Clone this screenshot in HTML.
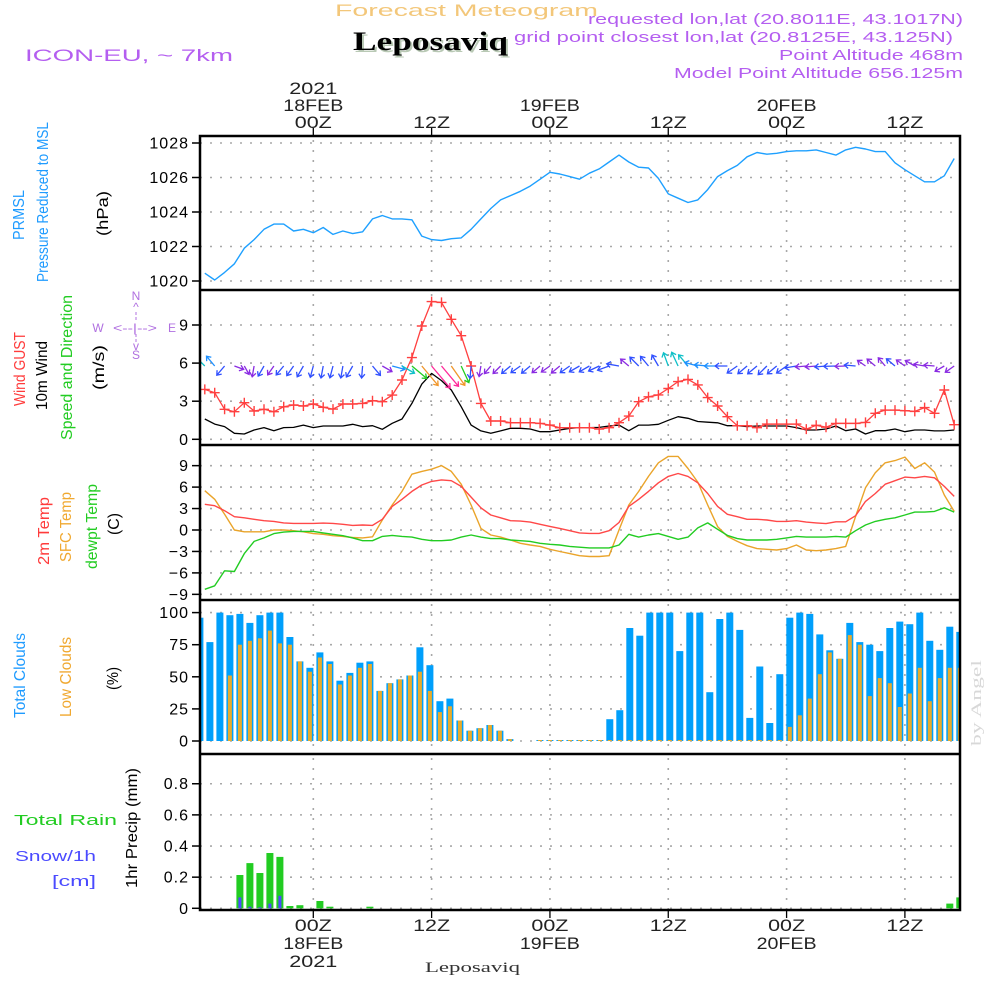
<!DOCTYPE html>
<html><head><meta charset="utf-8"><title>Forecast Meteogram Leposaviq</title>
<style>
html,body{margin:0;padding:0;background:#fff;}
svg{display:block;font-family:"Liberation Sans",sans-serif;}
</style></head>
<body>
<svg id="chart" width="1000" height="1000" viewBox="0 0 1000 1000" xmlns="http://www.w3.org/2000/svg">
<defs>
<clipPath id="clipPlot"><rect x="201" y="137" width="758" height="772"/></clipPath>
</defs>
<rect x="0" y="0" width="1000" height="1000" fill="#fff"/>
<!-- header -->
<text x="335" y="16" font-size="17" fill="#f3c77a" textLength="263" lengthAdjust="spacingAndGlyphs">Forecast Meteogram</text>
<text x="355" y="52" font-family="Liberation Serif, serif" font-weight="bold" font-size="26" fill="#b9c9b5" textLength="155" lengthAdjust="spacingAndGlyphs">Leposaviq</text>
<text x="353" y="50" font-family="Liberation Serif, serif" font-weight="bold" font-size="26" fill="#000" textLength="155" lengthAdjust="spacingAndGlyphs">Leposaviq</text>
<text x="25" y="61" font-size="17" fill="#b45ef0" textLength="208" lengthAdjust="spacingAndGlyphs">ICON-EU, ~ 7km</text>
<text x="963" y="24" text-anchor="end" font-size="15" fill="#b45ef0" textLength="375" lengthAdjust="spacingAndGlyphs">requested lon,lat (20.8011E, 43.1017N)</text>
<text x="953" y="42" text-anchor="end" font-size="15" fill="#b45ef0" textLength="439" lengthAdjust="spacingAndGlyphs">grid point closest lon,lat (20.8125E, 43.125N)</text>
<text x="963" y="60" text-anchor="end" font-size="15" fill="#b45ef0" textLength="184" lengthAdjust="spacingAndGlyphs">Point Altitude 468m</text>
<text x="963" y="78" text-anchor="end" font-size="15" fill="#b45ef0" textLength="289" lengthAdjust="spacingAndGlyphs">Model Point Altitude 656.125m</text>

<!-- left labels -->
<g>
<text transform="translate(24,240) rotate(-90)" font-size="16" fill="#1e9bff" textLength="50" lengthAdjust="spacingAndGlyphs">PRMSL</text>
<text transform="translate(48,282) rotate(-90)" font-size="16" fill="#1e9bff" textLength="160" lengthAdjust="spacingAndGlyphs">Pressure Reduced to MSL</text>
<text transform="translate(108,236) rotate(-90)" font-size="16" fill="#000" textLength="45" lengthAdjust="spacingAndGlyphs">(hPa)</text>
</g>
<g>
<text transform="translate(25,406) rotate(-90)" font-size="16" fill="#ff3b3b" textLength="74" lengthAdjust="spacingAndGlyphs">Wind GUST</text>
<text transform="translate(47,410) rotate(-90)" font-size="16" fill="#000" textLength="69" lengthAdjust="spacingAndGlyphs">10m Wind</text>
<text transform="translate(72,440) rotate(-90)" font-size="16" fill="#22cc22" textLength="145" lengthAdjust="spacingAndGlyphs">Speed and Direction</text>
<text transform="translate(104,390) rotate(-90)" font-size="16" fill="#000" textLength="45" lengthAdjust="spacingAndGlyphs">(m/s)</text>
<g fill="#b070e0" font-size="12" text-anchor="middle">
<text x="136" y="300">N</text>
<text x="136" y="311">^</text>
<text x="98" y="332">W</text>
<text x="135" y="332" textLength="44" lengthAdjust="spacingAndGlyphs">&lt;--|--&gt;</text>
<text x="172" y="332">E</text>
<text x="136" y="350">v</text>
<text x="136" y="359">S</text>
<line x1="136" y1="312" x2="136" y2="322" stroke="#b070e0" stroke-dasharray="3 2"/>
<line x1="136" y1="334" x2="136" y2="343" stroke="#b070e0" stroke-dasharray="3 2"/>
</g>
</g>
<g>
<text transform="translate(49,565) rotate(-90)" font-size="16" fill="#ff3b3b" textLength="68" lengthAdjust="spacingAndGlyphs">2m Temp</text>
<text transform="translate(71,562) rotate(-90)" font-size="16" fill="#f0a830" textLength="70" lengthAdjust="spacingAndGlyphs">SFC Temp</text>
<text transform="translate(97,569) rotate(-90)" font-size="16" fill="#22cc22" textLength="85" lengthAdjust="spacingAndGlyphs">dewpt Temp</text>
<text transform="translate(119,535) rotate(-90)" font-size="16" fill="#000" textLength="22" lengthAdjust="spacingAndGlyphs">(C)</text>
</g>
<g>
<text transform="translate(25,718) rotate(-90)" font-size="16" fill="#1e9bff" textLength="85" lengthAdjust="spacingAndGlyphs">Total Clouds</text>
<text transform="translate(71,717) rotate(-90)" font-size="16" fill="#f0a830" textLength="80" lengthAdjust="spacingAndGlyphs">Low Clouds</text>
<text transform="translate(118,690) rotate(-90)" font-size="16" fill="#000" textLength="23" lengthAdjust="spacingAndGlyphs">(%)</text>
</g>
<g>
<text x="14" y="825" font-size="15" fill="#22cc22" textLength="103" lengthAdjust="spacingAndGlyphs">Total   Rain</text>
<text x="15" y="861" font-size="15" fill="#4a4aff" textLength="81" lengthAdjust="spacingAndGlyphs">Snow/1h</text>
<text x="52" y="886" font-size="15" fill="#4a4aff" textLength="44" lengthAdjust="spacingAndGlyphs">[cm]</text>
<text transform="translate(137,888) rotate(-90)" font-size="16" fill="#000" textLength="120" lengthAdjust="spacingAndGlyphs">1hr Precip (mm)</text>
</g>
<text transform="translate(981,746) rotate(-90)" font-family="Liberation Serif, serif" font-size="15" fill="#d8d8d8" textLength="86" lengthAdjust="spacingAndGlyphs">by Angel</text>
<text x="425" y="972" font-family="Liberation Serif, serif" font-size="15" fill="#333" textLength="95" lengthAdjust="spacingAndGlyphs">Leposaviq</text>

<g id="grid"></g>
<g id="marks" clip-path="url(#clipPlot)"></g>
<g id="axes"></g>
</svg>

<script>
// ---------- DATA (hourly, lines: hour -11 .. 65 rel. 00Z 18FEB) ----------
const lineStartHour = -11;
const barStartHour = -12;
const pressure = [1020.45,1020.06,1020.5,1021.0,1021.9,1022.4,1023.0,1023.3,1023.3,1022.9,1023.0,
1022.8,1023.1,1022.7,1022.9,1022.75,1022.85,1023.6,1023.8,1023.6,1023.6,1023.55,1022.6,
1022.4,1022.35,1022.45,1022.5,1023.0,1023.6,1024.2,1024.7,1024.95,1025.2,1025.5,1025.9,
1026.3,1026.2,1026.05,1025.9,1026.25,1026.5,1026.9,1027.3,1026.9,1026.6,1026.55,1025.95,
1025.05,1024.8,1024.55,1024.7,1025.3,1026.05,1026.4,1026.7,1027.2,1027.45,1027.35,1027.4,
1027.5,1027.55,1027.55,1027.6,1027.45,1027.3,1027.6,1027.75,1027.65,1027.5,1027.5,1026.85,
1026.45,1026.1,1025.75,1025.75,1026.1,1027.1];
const windGust = [3.93,3.67,2.36,2.17,2.88,2.23,2.36,2.17,2.56,2.7,2.62,
2.78,2.52,2.38,2.78,2.78,2.83,3.04,2.96,3.48,4.67,6.43,8.92,
10.84,10.78,9.45,8.16,5.77,2.83,1.44,1.44,1.31,1.31,1.31,1.25,
1.12,0.91,0.91,0.91,0.91,
0.8,0.91,1.31,1.83,2.96,3.35,3.5,4.0,4.54,4.72,4.28,3.28,2.62,1.78,1.07,1.07,0.91,1.2,1.2,1.2,1.2,0.8,1.1,0.95,1.25,1.25,1.25,1.33,2.05,2.3,2.3,2.25,2.2,2.5,2.05,3.88,1.15];
const windSpeed = [1.6,1.2,1.0,0.47,0.42,0.73,0.92,0.68,0.92,0.94,1.12,
0.92,1.05,1.05,1.05,1.18,1.0,1.07,0.79,1.26,1.6,2.83,4.35,
5.19,4.62,3.88,2.57,1.12,0.66,0.47,0.66,0.87,0.87,0.81,0.6,
0.6,0.73,0.87,0.92,0.92,
0.94,1.05,1.12,0.68,1.12,1.12,1.18,1.5,1.78,1.65,1.4,1.35,1.3,1.07,1.07,1.0,1.05,1.05,1.05,1.05,0.92,0.73,0.73,0.81,1.05,0.68,0.81,0.42,0.68,0.68,0.81,0.6,0.73,0.73,0.66,0.66,0.73];
const windDir = [135,140,40,290,330,10,30,35,40,35,30,
15,10,15,10,30,5,320,300,285,300,310,320,
320,320,325,335,5,10,40,45,50,55,50,50,
55,50,55,60,60,65,70,100,130,135,140,150,
160,155,140,105,95,90,90,55,50,50,45,50,
55,80,85,85,85,88,88,95,125,130,140,130,
125,120,100,95,60,55];
const temp2m = [3.6,3.4,2.7,1.86,1.7,1.5,1.3,1.2,1.0,0.93,0.93,
0.93,0.97,0.93,0.8,0.65,0.7,0.65,1.5,3.3,4.3,5.4,6.3,
6.8,7.0,6.9,6.1,4.6,3.1,2.1,1.7,1.3,1.25,1.1,0.8,
0.5,0.23,-0.1,-0.4,-0.47,
-0.47,-0.1,1.05,3.3,4.3,5.4,6.6,7.5,7.9,7.5,6.6,5.1,3.3,2.2,1.86,1.5,1.5,1.4,1.2,1.2,1.3,1.1,1.0,0.9,1.15,1.15,2.0,4.0,5.1,6.4,6.9,7.4,7.3,7.5,7.3,6.1,4.7];
const tempSfc = [5.5,4.3,2.2,0,-0.25,-0.25,-0.25,0,0,-0.1,-0.25,
-0.5,-0.6,-0.8,-0.9,-1.05,-1.1,-0.95,1.4,3.5,5.4,7.8,8.2,
8.5,9.0,8.2,6.4,3.5,0.23,-0.7,-1.0,-1.4,-1.86,-2.1,-2.3,
-2.7,-3.0,-3.3,-3.6,-3.7,
-3.7,-3.6,0.0,3.5,5.4,7.5,9.4,10.3,10.3,8.6,6.7,3.5,0.47,-0.9,-1.6,-2.2,-2.6,-2.7,-2.8,-2.6,-2.1,-2.8,-2.9,-2.8,-2.6,-2.3,1.9,5.9,8.0,9.4,9.7,10.2,8.6,9.4,8.1,4.9,2.6];
const dewpoint = [-8.3,-7.8,-5.7,-5.8,-3.3,-1.6,-1.1,-0.5,-0.3,-0.2,-0.2,
-0.2,-0.4,-0.6,-0.8,-1.1,-1.5,-1.5,-0.9,-0.75,-0.9,-1.0,-1.3,
-1.5,-1.5,-1.4,-1.0,-0.7,-1.0,-1.2,-1.2,-1.4,-1.5,-1.6,-1.86,
-2.0,-2.1,-2.3,-2.4,-2.5,
-2.5,-2.5,-2.1,-0.6,-1.0,-0.7,-0.5,-0.9,-1.3,-1.0,0.3,1.0,0.1,-0.75,-1.2,-1.4,-1.4,-1.4,-1.3,-1.1,-0.9,-1.0,-1.0,-1.0,-0.9,-1.0,-0.1,0.7,1.2,1.5,1.7,2.1,2.5,2.5,2.6,3.1,2.5];
// bars: hour -12 .. 64
const totalClouds = [96,77,100,98,99,92,98,100,100,81,62,57,69,62,47,53,61,62,39,45,48,51,73,59,31,33,16,8,10,12.5,8,1.5,
0,0,0.5,0.5,0.5,0.5,0.5,0.5,0.5,
17,24,88,82,100,100,100,70,100,100,38,95,100,86.5,18,58,14,52,96,100,99,83,70.6,64,92,77,75,70,88,93,91,100,78,71,89,85];
const lowClouds = [0,0,0,51,75,78,80,86,76,75,62,54,65,60,44,51,57,60,39,45,48,51,54,39,22.5,27,16,8,10,12.5,8,1.5,
0,0,0.5,0.5,0.5,0.5,0.5,0.5,0.5,
0.5,0.5,0.5,0.5,0.5,0.5,0.5,0.5,0.5,0.5,0.5,0.5,0.5,0.5,0.5,0.5,0.5,0.5,
11,20,33,52,69,64,82.5,75,35,49,45,26.5,37,57,31,49,57,57];
const rainTotal = [0,0,0,0,0.214,0.29,0.227,0.355,0.33,0.015,0.02,0,0.047,0.01,0,0,0,0.01,
0,0,0,0,0,0,0,0,0,0,0,0,0,0,0,0,0,0,0,0,0,0,0,0,0,0,0,0,0,0,0,0,0,0,0,0,0,0,0,0,0,0,0,0,0,0,0,0,0,0,0,0,0,0,0,0,0,0.03,0.07];
const snowHourly = [0,0,0,0,0.07,0.01,0.005,0.03,0.08];
const pressureTicks = [1020,1022,1024,1026,1028];
const windTicks = [0,3,6,9];
const tempTicks = [-9,-6,-3,0,3,6,9];
const cloudTicks = [0,25,50,75,100];
const precipTicks = [0,0.2,0.4,0.6,0.8];
const timeTickHours = [0,12,24,36,48,60];
const timeTickLabels = ["00Z","12Z","00Z","12Z","00Z","12Z"];
const dayLabels = {0:"18FEB",24:"19FEB",48:"20FEB"};
const yearLabelHour = 0;
const yearLabel = "2021";

// ---------- SCALES ----------
const X0 = 200, X1 = 960;
const xS = h => 313.3 + 9.86*h;
const bX = h => xS(h*1.014 + 0.67);
const yP = v => 281 - (v-1020)*17.25;
const yW = v => 439.3 - v*12.7;
const yT = v => 530 - v*7.15;
const yC = v => 741 - v*1.284;
const yR = v => 908.3 - v*155.7;
const panels = [[136,290],[290,445],[445,600],[600,754],[754,910]];

const NS = "http://www.w3.org/2000/svg";
function el(tag, parent){ const e=document.createElementNS(NS,tag); parent.appendChild(e); return e; }
const grid = document.getElementById('grid');
const marks = document.getElementById('marks');
const axes = document.getElementById('axes');

// ---------- GRID ----------
function hgrid(ticks, yf, name){
  ticks.forEach(t=>{
    const l = el('line', grid);
    
    
    l.setAttribute('x1', X0); l.setAttribute('x2', X1);
    l.setAttribute('y1', yf(t)); l.setAttribute('y2', yf(t));
    l.setAttribute('stroke', '#a8a8a8'); l.setAttribute('stroke-width', '1.6');
    l.setAttribute('stroke-dasharray', '2 8');
  });
}
hgrid(pressureTicks, yP, 'pressure-gridline');
hgrid(windTicks, yW, 'wind-gridline');
hgrid(tempTicks, yT, 'temp-gridline');
hgrid(cloudTicks, yC, 'cloud-gridline');
hgrid(precipTicks, yR, 'precip-gridline');
timeTickHours.forEach(h=>{
  panels.forEach(p=>{
    const l = el('line', grid);
    
    
    l.setAttribute('x1', xS(h)); l.setAttribute('x2', xS(h));
    l.setAttribute('y1', p[0]+4); l.setAttribute('y2', p[1]);
    l.setAttribute('stroke', '#a8a8a8'); l.setAttribute('stroke-width', '1.6');
    l.setAttribute('stroke-dasharray', '2 8');
  });
});

// ---------- LINES ----------
function line(data, yf, color, name, width){
  const pts = data.map((v,i)=> xS(lineStartHour+i).toFixed(1)+','+yf(v).toFixed(1)).join(' ');
  const pl = el('polyline', marks);
  
  
  pl.setAttribute('points', pts);
  pl.setAttribute('fill', 'none');
  pl.setAttribute('stroke', color);
  pl.setAttribute('stroke-width', width||1.4);
  pl.setAttribute('stroke-linejoin', 'round');
}

// ---------- BARS ----------
function bars(data, startH, yf, y0, color, w, name){
  data.forEach((v,i)=>{
    if (v<=0) return;
    const cx = bX(startH+i);
    const r = el('rect', marks);
    
    
    r.setAttribute('x', (cx-w/2).toFixed(1));
    r.setAttribute('y', Math.min(yf(v), y0-1).toFixed(1));
    r.setAttribute('width', w);
    r.setAttribute('height', Math.max(y0-yf(v),1).toFixed(1));
    r.setAttribute('fill', color);
  });
}
bars(totalClouds, barStartHour, yC, yC(0), '#009ffb', 7, 'total-cloud-bar');
bars(lowClouds, barStartHour, yC, yC(0), '#e8ab2c', 4, 'low-cloud-bar');
bars(rainTotal, barStartHour, yR, yR(0), '#22cc22', 7, 'rain-bar');
bars(snowHourly, barStartHour, yR, yR(0), '#4a4aff', 3, 'snow-bar');

line(pressure, yP, '#1ea0ff', 'pressure-line', 1.4);
line(windSpeed, yW, '#000000', 'wind-speed-line', 1.3);
line(windGust, yW, '#ff4040', 'wind-gust-line', 1.3);
line(tempSfc, yT, '#eaa42a', 'sfc-temp-line', 1.4);
line(dewpoint, yT, '#22cc22', 'dewpoint-line', 1.4);
line(temp2m, yT, '#ff4848', 'temp-2m-line', 1.4);

// gust markers
windGust.forEach((v,i)=>{
  const x = xS(lineStartHour+i), y = yW(v);
  const p = el('path', marks);
  
  
  p.setAttribute('d', `M${(x-5).toFixed(1)},${y.toFixed(1)}H${(x+5).toFixed(1)}M${x.toFixed(1)},${(y-5).toFixed(1)}V${(y+5).toFixed(1)}`);
  p.setAttribute('stroke', '#ff4040');
  p.setAttribute('stroke-width', '1.4');
});

// wind arrows
function arrowColor(s){
  if (s < 0.8) return '#8a2be2';
  if (s < 1.2) return '#3050ff';
  if (s < 1.45) return '#1e90ff';
  if (s < 2.0) return '#10c0c8';
  if (s < 3.5) return '#22cc22';
  if (s < 4.5) return '#f0962a';
  return '#ff2a9a';
}
windDir.forEach((d,i)=>{
  const s = windSpeed[i];
  const L = 8 + 4*s;
  const rad = d*Math.PI/180;
  const x1 = xS(lineStartHour+i), y1 = 366;
  const dx = -Math.sin(rad)*L, dy = Math.cos(rad)*L;
  const x2 = x1+dx, y2 = y1+dy;
  const ux = dx/L, uy = dy/L, hl = 5;
  const a1x = x2 - hl*(ux*0.8 - uy*0.6), a1y = y2 - hl*(uy*0.8 + ux*0.6);
  const a2x = x2 - hl*(ux*0.8 + uy*0.6), a2y = y2 - hl*(uy*0.8 - ux*0.6);
  const p = el('path', marks);
  
  
  p.setAttribute('d', `M${x1.toFixed(1)},${y1.toFixed(1)}L${x2.toFixed(1)},${y2.toFixed(1)}M${a1x.toFixed(1)},${a1y.toFixed(1)}L${x2.toFixed(1)},${y2.toFixed(1)}L${a2x.toFixed(1)},${a2y.toFixed(1)}`);
  p.setAttribute('stroke', arrowColor(s));
  p.setAttribute('stroke-width', '1.3');
  p.setAttribute('fill', 'none');
});

// ---------- AXES / FRAME ----------
const frame = el('rect', axes);


frame.setAttribute('x', X0); frame.setAttribute('y', 136);
frame.setAttribute('width', X1-X0); frame.setAttribute('height', 774);
frame.setAttribute('fill', 'none'); frame.setAttribute('stroke', '#000'); frame.setAttribute('stroke-width', '2.5');
[290,445,600,754].forEach(y=>{
  const l = el('line', axes);
  
  
  l.setAttribute('x1', X0); l.setAttribute('x2', X1);
  l.setAttribute('y1', y); l.setAttribute('y2', y);
  l.setAttribute('stroke', '#000'); l.setAttribute('stroke-width', '2.5');
});
function yAxis(ticks, yf, name, fmt){
  ticks.forEach(t=>{
    const y = yf(t);
    const tk = el('line', axes);
    
    
    tk.setAttribute('x1', 192); tk.setAttribute('x2', X0);
    tk.setAttribute('y1', y); tk.setAttribute('y2', y);
    tk.setAttribute('stroke', '#000'); tk.setAttribute('stroke-width', '1.5');
    const tx = el('text', axes);
    
    
    tx.setAttribute('x', 189); tx.setAttribute('y', (y+5.5).toFixed(1));
    tx.setAttribute('text-anchor', 'end');
    tx.setAttribute('font-size', '16');
    tx.setAttribute('letter-spacing', '1');
    tx.textContent = fmt(t);
  });
}
yAxis(pressureTicks, yP, 'pressure-axis', t=>String(t));
yAxis(windTicks, yW, 'wind-axis', t=>String(t));
yAxis(tempTicks, yT, 'temp-axis', t=>t<0 ? '\u2212'+Math.abs(t) : String(t));
yAxis(cloudTicks, yC, 'cloud-axis', t=>String(t));
yAxis(precipTicks, yR, 'precip-axis', t=>t===0?'0':t.toFixed(1));

function timeText(x, y, s, name, len){
  const t = el('text', axes);
  
  
  t.setAttribute('x', x.toFixed(1)); t.setAttribute('y', y);
  t.setAttribute('text-anchor', 'middle');
  t.setAttribute('font-size', '17');
  t.setAttribute('fill', '#222');
  t.setAttribute('textLength', len);
  t.setAttribute('lengthAdjust', 'spacingAndGlyphs');
  t.textContent = s;
}
timeTickHours.forEach((h,i)=>{
  const x = xS(h);
  [[128,136],[910,918]].forEach(r=>{
    const tk = el('line', axes);
    
    
    tk.setAttribute('x1', x); tk.setAttribute('x2', x);
    tk.setAttribute('y1', r[0]); tk.setAttribute('y2', r[1]);
    tk.setAttribute('stroke', '#000'); tk.setAttribute('stroke-width', '1.3');
  });
  timeText(x, 128, timeTickLabels[i], 'top-time-label', 37);
  timeText(x, 931, timeTickLabels[i], 'bottom-time-label', 37);
  if (dayLabels[h]) {
    timeText(x, 111, dayLabels[h], 'top-date-label', 60);
    timeText(x, 949, dayLabels[h], 'bottom-date-label', 60);
  }
  if (h === yearLabelHour) {
    timeText(x, 94, yearLabel, 'top-year-label', 48);
    timeText(x, 967, yearLabel, 'bottom-year-label', 48);
  }
});
</script>
</body></html>
